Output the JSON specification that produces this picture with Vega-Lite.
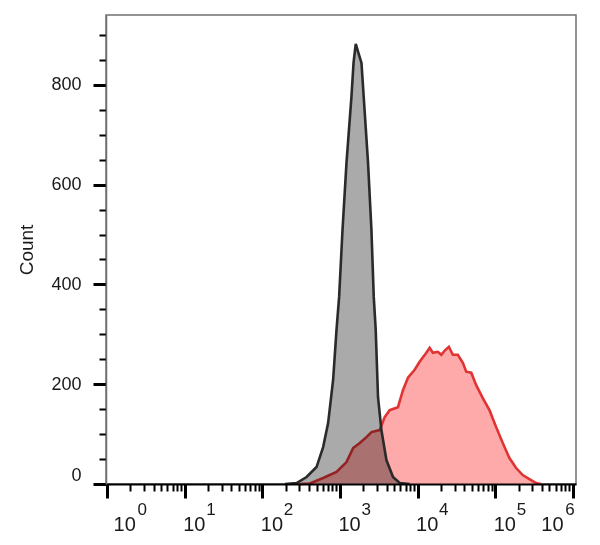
{
  "$schema": "https://vega.github.io/schema/vega-lite/v6.json",
  "width": 470,
  "height": 469,
  "autosize": "none",
  "padding": {"left": 106, "top": 15, "right": 24, "bottom": 61},
  "background": "white",
  "config": {
    "view": {"stroke": "#707070", "strokeWidth": 1.5},
    "axis": {"labelFont": "Liberation Sans", "titleFont": "Liberation Sans", "grid": false}
  },
  "datasets": {
    "control": [
      {"x": 196, "count": 0}, {"x": 277, "count": 2}, {"x": 372, "count": 14},
      {"x": 500, "count": 34}, {"x": 608, "count": 74}, {"x": 705, "count": 122},
      {"x": 818, "count": 209}, {"x": 904, "count": 309}, {"x": 977, "count": 375},
      {"x": 1080, "count": 509}, {"x": 1216, "count": 644}, {"x": 1409, "count": 777},
      {"x": 1500, "count": 845}, {"x": 1600, "count": 882}, {"x": 1700, "count": 868},
      {"x": 1896, "count": 844}, {"x": 2090, "count": 744}, {"x": 2303, "count": 644},
      {"x": 2548, "count": 509}, {"x": 2729, "count": 375}, {"x": 2893, "count": 309},
      {"x": 3097, "count": 174}, {"x": 3426, "count": 108}, {"x": 3972, "count": 48},
      {"x": 4830, "count": 14}, {"x": 5890, "count": 2}, {"x": 7910, "count": 0}
    ],
    "stained": [
      {"x": 305, "count": 0}, {"x": 410, "count": 1}, {"x": 608, "count": 12},
      {"x": 904, "count": 24}, {"x": 1216, "count": 44}, {"x": 1479, "count": 72},
      {"x": 1803, "count": 82}, {"x": 2198, "count": 94}, {"x": 2548, "count": 104},
      {"x": 3258, "count": 108}, {"x": 3776, "count": 134}, {"x": 4377, "count": 148},
      {"x": 5598, "count": 154}, {"x": 6490, "count": 188}, {"x": 7530, "count": 213},
      {"x": 9180, "count": 229}, {"x": 10640, "count": 245}, {"x": 12980, "count": 263},
      {"x": 14320, "count": 273}, {"x": 15780, "count": 263}, {"x": 18290, "count": 265},
      {"x": 20230, "count": 259}, {"x": 22290, "count": 267}, {"x": 25330, "count": 275},
      {"x": 28510, "count": 259}, {"x": 33050, "count": 259}, {"x": 38370, "count": 243},
      {"x": 42380, "count": 225}, {"x": 49200, "count": 223}, {"x": 57000, "count": 198},
      {"x": 69300, "count": 172}, {"x": 84500, "count": 148}, {"x": 103000, "count": 114},
      {"x": 125300, "count": 82}, {"x": 152700, "count": 52}, {"x": 186200, "count": 32},
      {"x": 226400, "count": 18}, {"x": 276000, "count": 10}, {"x": 336600, "count": 2},
      {"x": 390000, "count": 0}
    ]
  },
  "resolve": {"axis": {"x": "independent", "y": "independent"}},
  "layer": [
    {
      "data": {"name": "stained"},
      "mark": {
        "type": "area",
        "color": "#ffaaaa",
        "opacity": 1,
        "fillOpacity": 1,
        "line": {"color": "#e03333", "strokeWidth": 2.6}
      },
      "encoding": {
        "x": {
          "field": "x",
          "type": "quantitative",
          "scale": {"type": "log", "domain": [0.97, 1100000], "nice": false},
          "axis": {
            "orient": "bottom",
            "zindex": 1,
            "values": [1, 10, 100, 1000, 10000, 100000, 1000000],
            "labelExpr": "'10'",
            "tickSize": 14,
            "tickWidth": 3,
            "tickColor": "black",
            "domainColor": "black",
            "domainWidth": 2,
            "labelFontSize": 20,
            "labelColor": "#1a1a1a",
            "labelAlign": "left",
            "labelBaseline": "top",
            "labelPadding": 16,
            "labelOffset": {"expr": "datum.value == 1 ? 6 : datum.value == 1000000 ? -32 : -2"},
            "labelFlush": false,
            "labelOverlap": false,
            "title": null
          }
        },
        "y": {
          "field": "count",
          "type": "quantitative",
          "scale": {"domain": [0, 940], "nice": false},
          "axis": {
            "orient": "left",
            "zindex": 1,
            "values": [0, 200, 400, 600, 800],
            "tickSize": 13,
            "tickWidth": 3,
            "tickColor": "black",
            "domainColor": "#707070",
            "domainWidth": 1.5,
            "labelFontSize": 18,
            "labelColor": "#1a1a1a",
            "labelPadding": 12,
            "labelFlush": true,
            "title": "Count",
            "titleFontSize": 19,
            "titleFontWeight": "normal",
            "titleColor": "#1a1a1a",
            "titlePadding": 14
          }
        }
      }
    },
    {
      "data": {"name": "control"},
      "mark": {"type": "area", "color": "#aaaaaa", "opacity": 1, "fillOpacity": 1, "blend": "multiply"},
      "encoding": {
        "x": {
          "field": "x",
          "type": "quantitative",
          "scale": {"type": "log", "domain": [0.97, 1100000], "nice": false},
          "axis": {
            "orient": "bottom",
            "values": [1, 10, 100, 1000, 10000, 100000, 1000000],
            "labelExpr": "'' + round(log(datum.value) / LN10)",
            "ticks": false,
            "tickSize": 0,
            "domain": false,
            "labelFontSize": 17,
            "labelColor": "#1a1a1a",
            "labelAlign": "left",
            "labelBaseline": "top",
            "labelPadding": 17,
            "labelOffset": {"expr": "datum.value == 1 ? 30 : datum.value == 1000000 ? -8 : 21"},
            "labelFlush": false,
            "labelOverlap": false,
            "title": null
          }
        },
        "y": {
          "field": "count",
          "type": "quantitative",
          "scale": {"domain": [0, 940], "nice": false},
          "axis": {
            "orient": "left",
            "values": [50, 100, 150, 250, 300, 350, 450, 500, 550, 650, 700, 750, 850, 900],
            "labels": false,
            "domain": false,
            "tickSize": 7,
            "tickWidth": 2,
            "tickColor": "black",
            "title": null
          }
        }
      }
    },
    {
      "data": {"name": "control"},
      "mark": {"type": "line", "color": "#2a2a2a", "strokeWidth": 2.6},
      "encoding": {
        "x": {
          "field": "x",
          "type": "quantitative",
          "scale": {"type": "log", "domain": [0.97, 1100000], "nice": false},
          "axis": {
            "orient": "bottom",
            "values": [2, 3, 4, 5, 6, 7, 8, 9, 20, 30, 40, 50, 60, 70, 80, 90, 200, 300, 400, 500, 600, 700, 800, 900, 2000, 3000, 4000, 5000, 6000, 7000, 8000, 9000, 20000, 30000, 40000, 50000, 60000, 70000, 80000, 90000, 200000, 300000, 400000, 500000, 600000, 700000, 800000, 900000],
            "labels": false,
            "domain": false,
            "tickSize": 7,
            "tickWidth": 2,
            "tickColor": "black",
            "title": null
          }
        },
        "y": {
          "field": "count",
          "type": "quantitative",
          "scale": {"domain": [0, 940], "nice": false},
          "axis": null
        }
      }
    }
  ]
}
